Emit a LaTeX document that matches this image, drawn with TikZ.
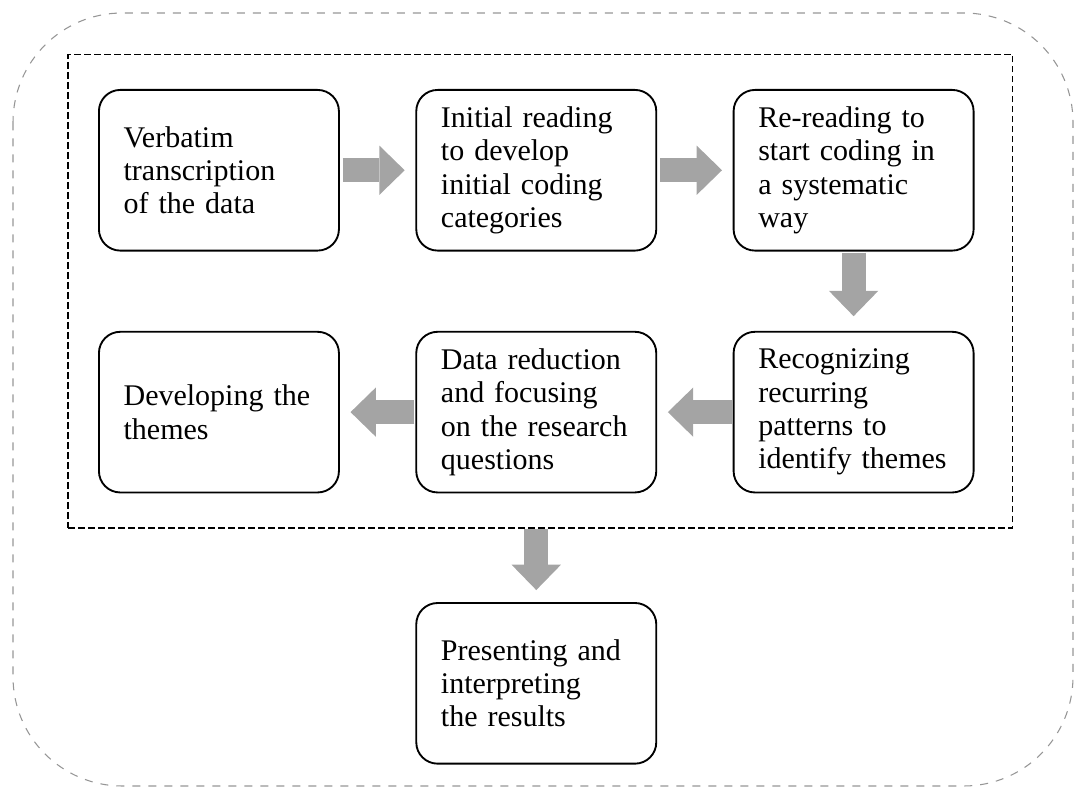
\documentclass[tikz,border=0pt]{standalone}
\usepackage{fontspec}
\setmainfont{Liberation Serif}
\usetikzlibrary{positioning,fit,arrows.meta}

\definecolor{arrowgray}{RGB}{164,164,164}
\definecolor{outergray}{RGB}{150,150,150}

\tikzset{
  stage/.style={draw, line width=1.4pt, rounded corners=16pt,
    minimum width=180pt, minimum height=120.5pt,
    text width=143pt, inner xsep=18.5pt, align=left,
    font=\fontsize{22.5pt}{25pt}\selectfont},
  fatarrow/.style={draw=arrowgray, line width=18pt,
    -{Triangle[length=19pt,width=37pt,line width=0pt,fill=arrowgray]},
    shorten <=2pt, shorten >=8pt}
}

\begin{document}
\begin{tikzpicture}[node distance=59.5pt and 56.6pt]
   \useasboundingbox (0,0) rectangle (805.5pt,-590.25pt);
   \draw[outergray, line width=0.8pt, dash pattern=on 6pt off 6pt, rounded corners=82pt]
      (9.75pt,-9.75pt) rectangle (804.75pt,-589.5pt);
   \node[stage, anchor=north west] (b1) at (73.5pt,-66.75pt) {Verbatim\\ transcription\\ of the data};
   \node[stage] (b2) [right=of b1] {Initial reading\\ to develop\\ initial coding\\ categories};
   \node[stage] (b3) [right=of b2] {Re-reading to\\ start coding in\\ a systematic\\ way};
   \node[stage] (b6) [below=of b3] {Recognizing\\ recurring\\ patterns to\\ identify themes};
   \node[stage] (b5) [left=of b6] {Data reduction\\ and focusing\\ on the research\\ questions};
   \node[stage] (b4) [left=of b5] {Developing the\\ themes};
   % \node[stage] (b7) [below=of b5] {...};
   \node[stage] (b7) [below=81.5pt of b5] {Presenting and\\ interpreting\\ the results};
   \node[draw, line width=1.1pt, dash pattern=on 5pt off 2.5pt,
         inner xsep=25.5pt, inner ysep=25.9pt, xshift=3pt, fit=(b1)(b6)] (frame) {};
    \path[fatarrow]
    (b1)   edge (b2)
    (b2)   edge (b3)
    (b3)   edge [shorten <=0.75pt, shorten >=11pt] (b6)
    (b6)   edge [shorten <=0.75pt] (b5)
    (b5)   edge [shorten <=0.75pt] (b4);
    \draw[fatarrow, shorten <=0pt, shorten >=9pt] (frame.south -| b5) -- (b7);
\end{tikzpicture}
\end{document}
